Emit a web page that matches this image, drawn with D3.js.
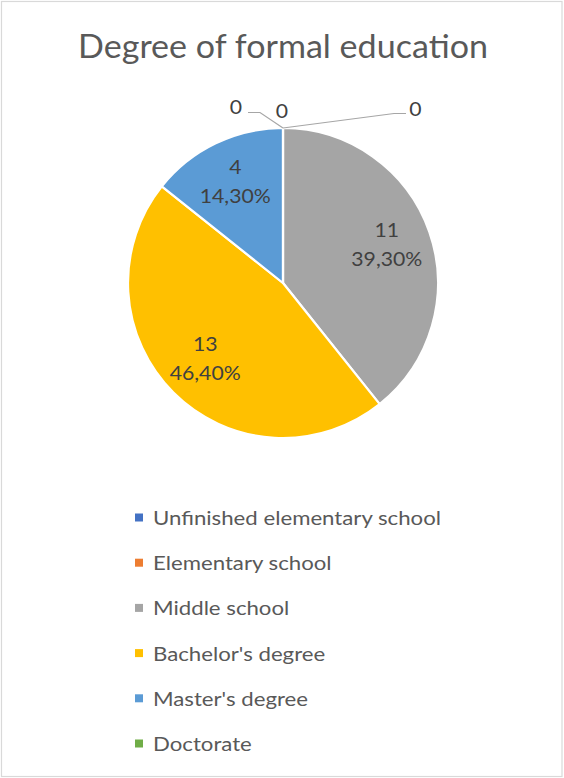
<!DOCTYPE html>
<html>
<head>
<meta charset="utf-8">
<script src="https://cdn.jsdelivr.net/npm/d3@7"></script>
<style>
  html, body { margin: 0; padding: 0; background: #ffffff; }
  svg { display: block; }
</style>
</head>
<body>
<svg id="chart" width="564" height="778"></svg>
<script>
// ---- data ----
const title = "Degree of formal education";
const categories = ["Unfinished elementary school", "Elementary school", "Middle school", "Bachelor's degree", "Master's degree", "Doctorate"];
const counts = [0, 0, 11, 13, 4, 0];
const percentLabels = ["0,00%", "0,00%", "39,30%", "46,40%", "14,30%", "0,00%"];
const colors = ["#4472C4", "#ED7D31", "#A5A5A5", "#FFC000", "#5B9BD5", "#70AD47"];

// ---- layout ----
const W = 564, H = 778;
const cx = 283, cy = 283, R = 155;
const FONT = "Lato, 'Open Sans', sans-serif";

const svg = d3.select("#chart");

// scale a group of texts horizontally so that a sample text gets a target width
function squeeze(sel, sampleNode, target) {
  const k = target / sampleNode.getComputedTextLength();
  sel.each(function () {
    const n = this.getComputedTextLength();
    d3.select(this).attr("textLength", n * k).attr("lengthAdjust", "spacingAndGlyphs");
  });
}

// border
svg.append("rect")
  .attr("x", 1.5).attr("y", 1.5)
  .attr("width", W - 3.5).attr("height", H - 3)
  .attr("fill", "#fff").attr("stroke", "#D9D9D9").attr("stroke-width", 1.2);

// title
const titleText = svg.append("text")
  .attr("x", 283).attr("y", 58)
  .attr("text-anchor", "middle")
  .attr("fill", "#595959")
  .style("font-family", FONT)
  .style("font-size", "32px")
  .text(title);
squeeze(titleText, titleText.node(), 410);

// pie
const pieData = d3.pie().sort(null).value(d => d)(counts);
const arc = d3.arc().innerRadius(0).outerRadius(R);
const g = svg.append("g").attr("transform", `translate(${cx},${cy})`);

g.selectAll("path.slice")
  .data(pieData)
  .join("path")
  .attr("class", "slice")
  .attr("d", arc)
  .attr("fill", (d, i) => colors[i])
  .attr("stroke", "#ffffff")
  .attr("stroke-width", 2.2)
  .attr("stroke-linejoin", "round");

// data labels for non-zero slices
const labelArc = d3.arc().innerRadius(110).outerRadius(110);
const labelG = g.append("g").style("font-family", FONT).attr("fill", "#404040").style("font-size", "20px");
const nonZero = pieData.map((d, i) => ({ d, i })).filter(o => o.d.value > 0);
const lbls = labelG.selectAll("g.lbl")
  .data(nonZero)
  .join("g")
  .attr("class", "lbl")
  .attr("transform", o => { const c = labelArc.centroid(o.d); return `translate(${c[0]},${c[1] - 3})`; });
lbls.append("text").attr("class", "l1").attr("text-anchor", "middle").attr("y", -7).text(o => counts[o.i]);
lbls.append("text").attr("class", "l2").attr("text-anchor", "middle").attr("y", 22).text(o => percentLabels[o.i]);

// zero-value labels with leader lines (outside, at top)
const zeroIdx = pieData.map((d, i) => i).filter(i => counts[i] === 0);
const zeroLayout = {
  0: { x: -47, y: -169, line: [[-35, -170.5], [-23, -170.5], [0, -R]] },
  1: { x: -1, y: -165, line: null },
  5: { x: 132.5, y: -167, line: [[0, -R], [111, -169.5], [123, -169.5]] }
};
const zg = g.append("g");
zeroIdx.forEach(i => {
  const L = zeroLayout[i];
  if (L.line) {
    zg.append("path")
      .attr("d", d3.line()(L.line))
      .attr("fill", "none")
      .attr("stroke", "#A6A6A6")
      .attr("stroke-width", 1.2);
  }
  zg.append("text")
    .attr("class", "zl")
    .attr("x", L.x).attr("y", L.y)
    .attr("text-anchor", "middle")
    .attr("fill", "#404040")
    .style("font-family", FONT)
    .style("font-size", "20px")
    .text(counts[i]);
});
const sample = lbls.filter(o => o.i === 2).select("text.l2").node();
const k0 = 71 / sample.getComputedTextLength();
squeeze(labelG.selectAll("text"), sample, 71);
zg.selectAll("text").each(function () {
  d3.select(this).attr("textLength", this.getComputedTextLength() * k0).attr("lengthAdjust", "spacingAndGlyphs");
});

// legend
const legend = svg.append("g").style("font-family", FONT);
const rows = legend.selectAll("g.row")
  .data(categories)
  .join("g")
  .attr("class", "row")
  .attr("transform", (d, i) => `translate(135, ${525 + i * 45.2})`);
rows.append("rect")
  .attr("x", 0).attr("y", -11.5)
  .attr("width", 8).attr("height", 8)
  .attr("fill", (d, i) => colors[i]);
rows.append("text")
  .attr("x", 18).attr("y", 0)
  .attr("fill", "#595959")
  .style("font-size", "19.5px")
  .text(d => d);
squeeze(rows.selectAll("text"), rows.filter((d, i) => i === 0).select("text").node(), 288);
</script>
</body>
</html>
